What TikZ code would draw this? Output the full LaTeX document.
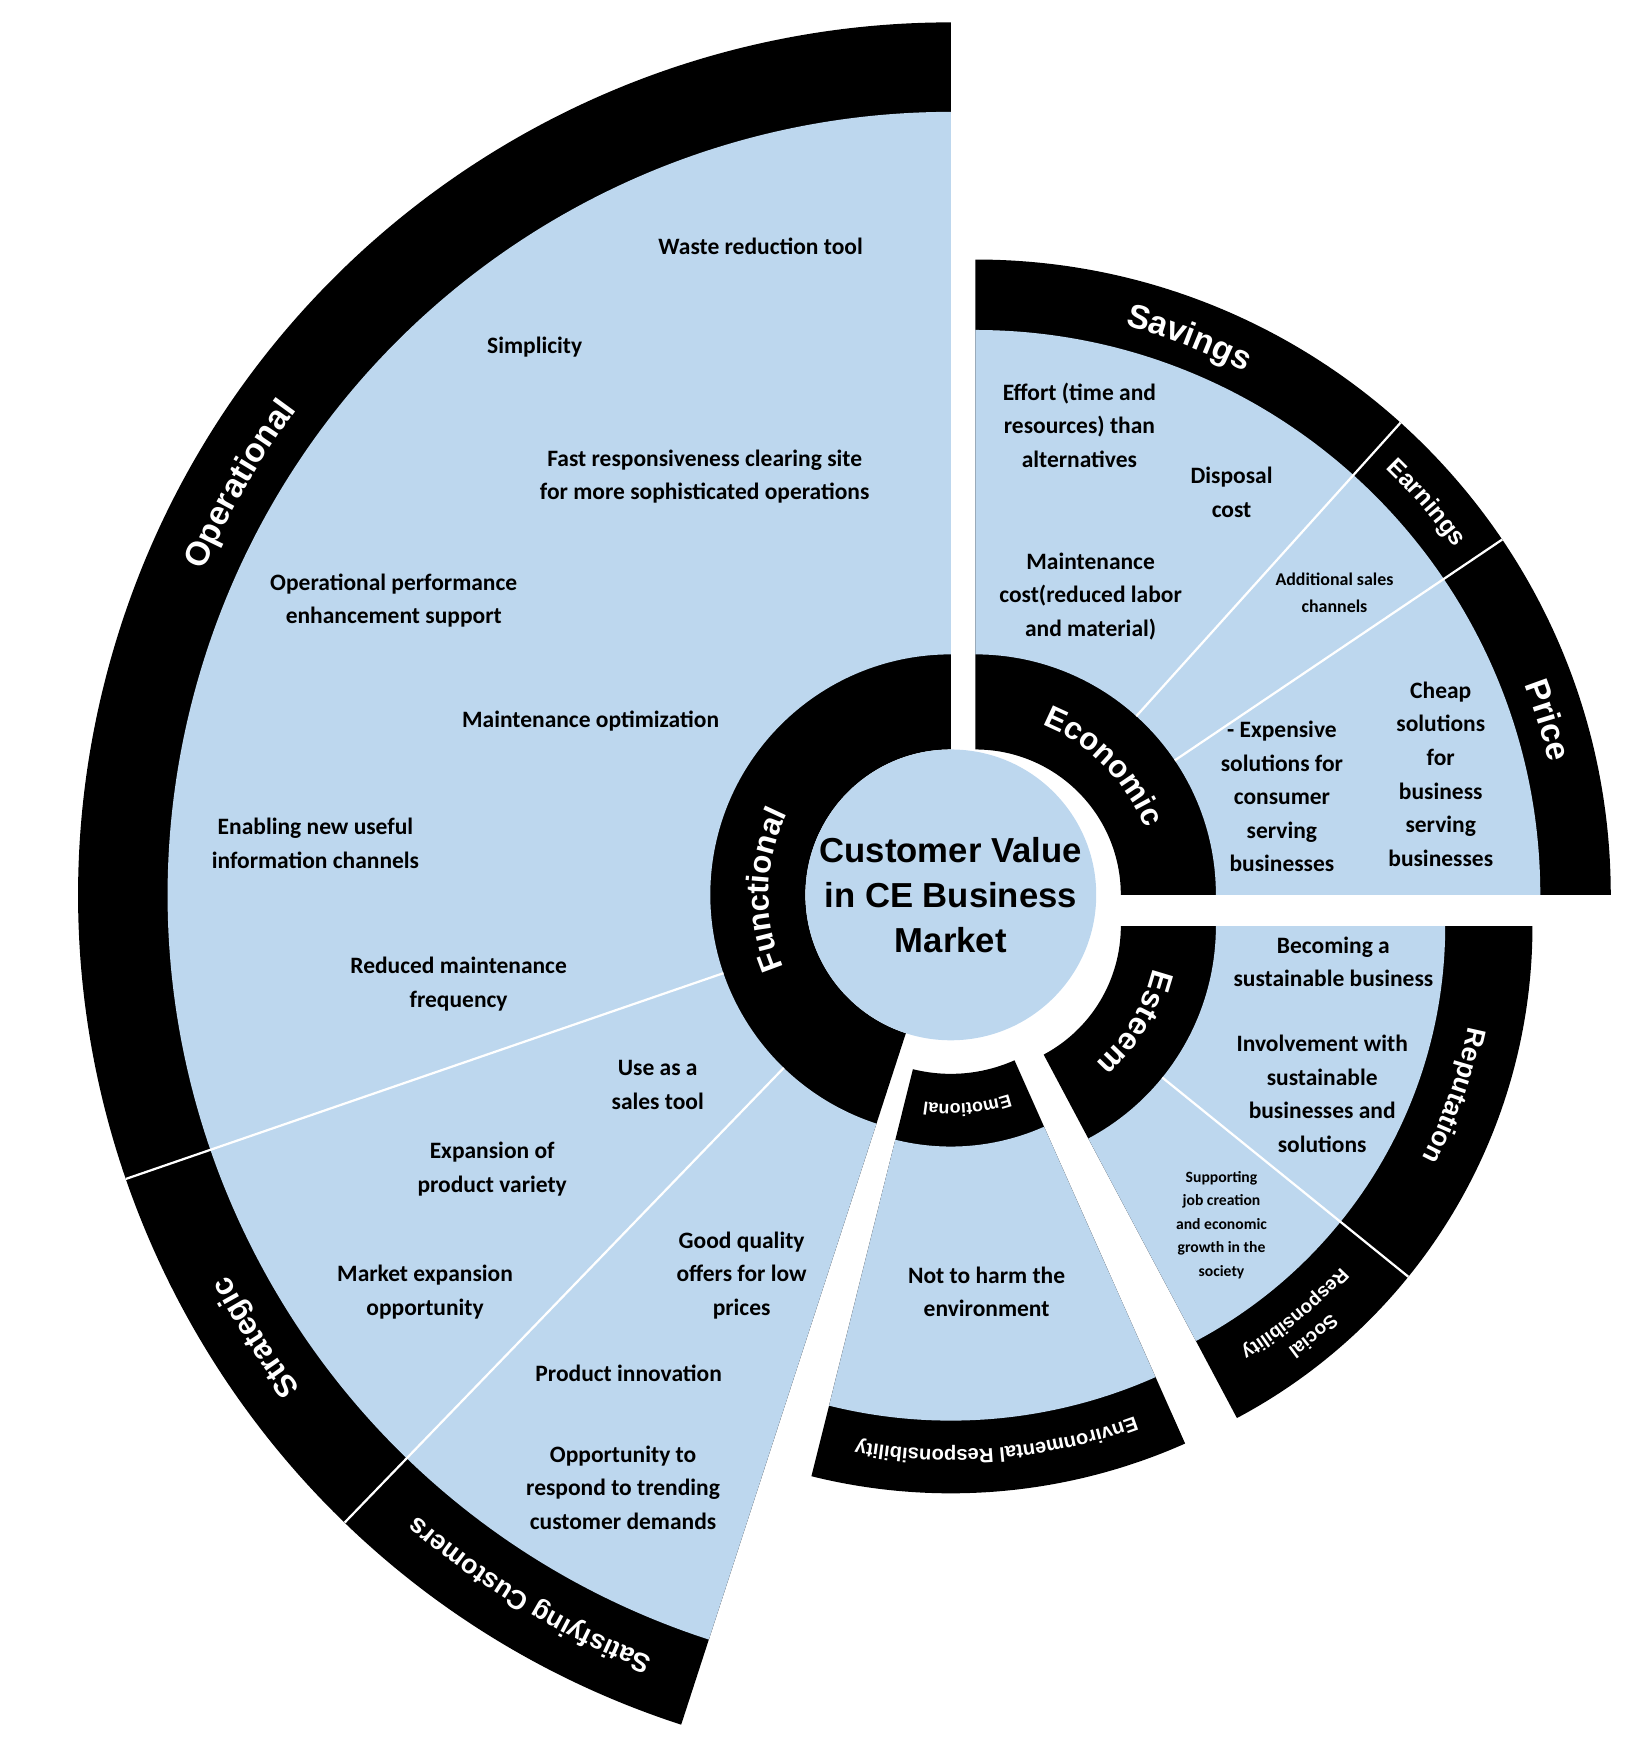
\documentclass[tikz,border=0pt]{standalone}
\usepackage{fontspec}
\setsansfont{Liberation Sans}
\newfontfamily\carl{Carlito}
\usetikzlibrary{decorations.text}
\definecolor{lblue}{HTML}{BDD7EE}
\newcommand\bodyfnt{\carl\bfseries\fontsize{21}{30}\selectfont}
\newcommand\smallfnt{\carl\bfseries\fontsize{16}{24}\selectfont}
\newcommand\tinyfnt{\carl\bfseries\fontsize{14}{21}\selectfont}
\newcommand\bandlbl[1]{\color{white}\sffamily\bfseries\fontsize{#1}{#1}\selectfont}
\newcommand\annsec[5]{% start, end, rin, rout, fill
\fill[#5] (#1:#3) arc[start angle=#1,end angle=#2,radius=#3] -- (#2:#4) arc[start angle=#2,end angle=#1,radius=#4] -- cycle;}
\newcommand\arctext[5]{% start,end,radius,size,text
\path[decorate,decoration={text along path,text align=center,text={|\bandlbl{#4}|#5}}] (#1:#3) arc[start angle=#1,end angle=#2,radius=#3];}
\begin{document}
\begin{tikzpicture}[x=1pt,y=1pt,
  body/.style={font=\bodyfnt,align=center,inner sep=0pt},
  smallt/.style={font=\smallfnt,align=center,inner sep=0pt},
  tinyt/.style={font=\tinyfnt,align=center,inner sep=0pt},
  divw/.style={white,line width=2pt}]
\useasboundingbox (0,0) rectangle (1470,-1577);
% Functional
\begin{scope}[shift={(850,-800)}]
\annsec{90}{252}{130pt}{780pt}{black}
\annsec{90}{252}{215pt}{700pt}{lblue}
\draw[divw] (199:215pt) -- (199:780pt);
\draw[divw] (226:215pt) -- (226:780pt);
\arctext{210}{90}{728pt}{30}{Operational}
\arctext{226}{199}{730pt}{28}{Strategic}
\arctext{252}{226}{732pt}{24}{Satisfying Customers}
\arctext{252}{105}{163pt}{28}{Functional}
\end{scope}
% Economic
\begin{scope}[shift={(872,-800)}]
\annsec{0}{90}{130pt}{568pt}{black}
\annsec{0}{90}{215pt}{505pt}{lblue}
\draw[divw] (48:215pt) -- (48:568pt);
\draw[divw] (34:215pt) -- (34:568pt);
\arctext{90}{48}{526pt}{30}{Savings}
\arctext{48}{34}{529pt}{22}{Earnings}
\arctext{34}{0}{526pt}{30}{Price}
\arctext{90}{0}{163pt}{28}{Economic}
\end{scope}
% Esteem
\begin{scope}[shift={(872,-828)}]
\annsec{-62}{0}{130pt}{498pt}{black}
\annsec{-62}{0}{215pt}{420pt}{lblue}
\draw[divw] (-39:215pt) -- (-39:498pt);
\arctext{0}{-39}{450pt}{24}{Reputation}
\arctext{-39}{-62}{470pt}{17}{Social}
\arctext{-39}{-62}{447pt}{17}{Responsibility}
\arctext{0}{-62}{163pt}{28}{Esteem}
\end{scope}
% Emotional
\begin{scope}[shift={(850,-820)}]
\annsec{256}{294}{140pt}{515pt}{black}
\annsec{256}{294}{205pt}{450pt}{lblue}
\arctext{294}{256}{476pt}{18}{Environmental Responsibility}
\arctext{294}{256}{167pt}{16}{Emotional}
\end{scope}
% centre
\fill[lblue] (850,-800) circle[radius=130pt];
\node[font=\sffamily\bfseries\fontsize{31}{40}\selectfont,align=center] (ctr) at (850,-800) {Customer Value\\in CE Business\\Market};
% texts
\node[body] (t1) at (680,-220) {Waste reduction tool};
\node[body] (t2) at (478,-310) {Simplicity};
\node[body] (t3) at (630,-426) {Fast responsiveness clearing site\\for more sophisticated operations};
\node[body] (t4) at (352,-537) {Operational performance\\enhancement support};
\node[body] (t5) at (528,-645) {Maintenance optimization};
\node[body] (t6) at (282,-754) {Enabling new useful\\information channels};
\node[body] (t7) at (410,-880) {Reduced maintenance\\frequency};
\node[body] (t8) at (588,-970) {Use as a\\sales tool};
\node[body] (t9) at (440,-1045) {Expansion of\\product variety};
\node[body] (t10) at (380,-1155) {Market expansion\\opportunity};
\node[body] (t11) at (663,-1140) {Good quality\\offers for low\\prices};
\node[body] (t12) at (562,-1228) {Product innovation};
\node[body] (t13) at (557,-1330) {Opportunity to\\respond to trending\\customer demands};
\node[body] (e1) at (965,-380) {Effort (time and\\resources) than\\alternatives};
\node[body] (e2) at (1101,-440) {Disposal\\cost};
\node[body] (e3) at (975,-533) {Maintenance\\cost(reduced labor\\and material)};
\node[smallt] (e4) at (1193,-530) {Additional sales\\channels};
\node[body] (e5) at (1146,-712) {- Expensive\\solutions for\\consumer\\serving\\businesses};
\node[body] (e6) at (1288,-692) {Cheap\\solutions\\for\\business\\serving\\businesses};
\node[body] (s1) at (1192,-860) {Becoming a\\sustainable business};
\node[body] (s2) at (1182,-978) {Involvement with\\sustainable\\businesses and\\solutions};
\node[tinyt] (s3) at (1092,-1095) {Supporting\\job creation\\and economic\\growth in the\\society};
\node[body] (m1) at (882,-1155) {Not to harm the\\environment};
\end{tikzpicture}
\end{document}
